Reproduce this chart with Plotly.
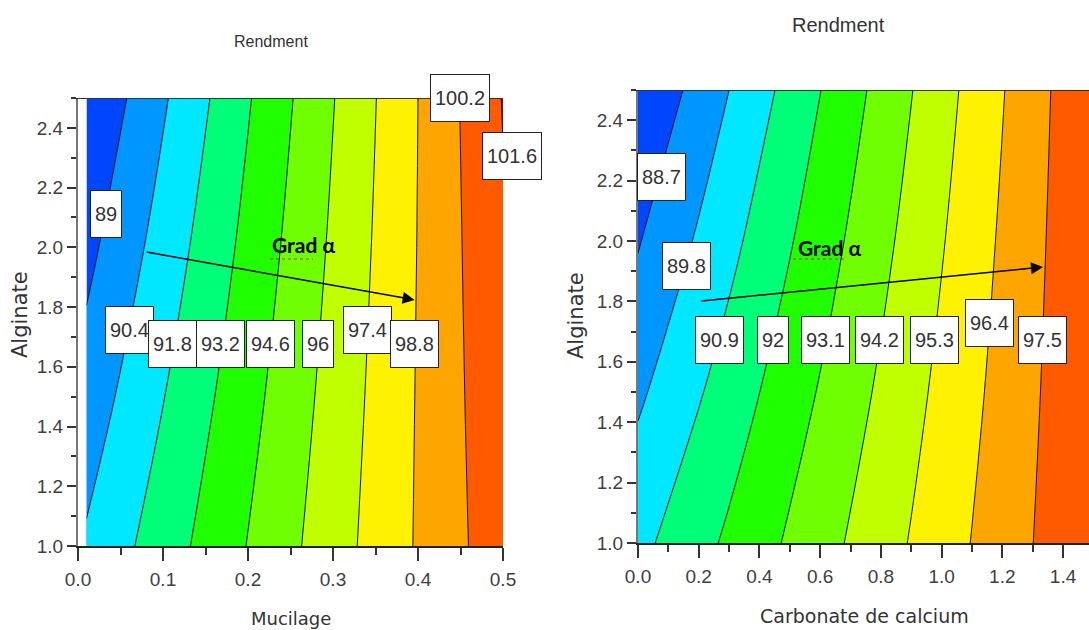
import plotly.graph_objects as go

# ---------------- data ----------------
# Left panel: Rendment vs Mucilage (x) and Alginate (y)
mucilage = [0.01, 0.1, 0.2, 0.3, 0.4, 0.5]
alginate = [1.0, 1.5, 2.0, 2.5]
rend_left = [
    [90.58, 92.51, 94.65, 96.79, 98.93, 101.07],
    [89.60, 91.75, 94.13, 96.51, 98.89, 101.27],
    [88.62, 90.98, 93.60, 96.22, 98.84, 101.46],
    [87.64, 90.22, 93.08, 95.94, 98.80, 101.66],
]
levels_left = [89, 90.4, 91.8, 93.2, 94.6, 96, 97.4, 98.8, 100.2, 101.6]
label_left_x = [0.033, 0.060, 0.111, 0.168, 0.227, 0.282, 0.341, 0.396, 0.449, 0.511]
label_left_y = [2.112, 1.723, 1.676, 1.676, 1.676, 1.676, 1.723, 1.676, 2.500, 2.306]

# Right panel: Rendment vs Carbonate de calcium (x) and Alginate (y)
carbonate = [0.0, 0.3, 0.6, 0.9, 1.2, 1.5]
alginate_r = [1.0, 1.5, 2.0, 2.5]
rend_right = [
    [90.60, 92.19, 93.78, 95.37, 96.96, 98.55],
    [89.61, 91.40, 93.18, 94.97, 96.75, 98.54],
    [88.62, 90.60, 92.58, 94.56, 96.55, 98.53],
    [87.63, 89.80, 91.98, 94.16, 96.34, 98.52],
]
levels_right = [88.7, 89.8, 90.9, 92, 93.1, 94.2, 95.3, 96.4, 97.5]
label_right_x = [0.076, 0.161, 0.268, 0.444, 0.616, 0.794, 0.975, 1.159, 1.331]
label_right_y = [2.212, 1.917, 1.672, 1.672, 1.672, 1.672, 1.672, 1.728, 1.672]

# Gradient arrows (start -> end)
grad_left = dict(x0=0.079, y0=1.985, x1=0.396, y1=1.824, tx=0.265, ty=2.008)
grad_right = dict(x0=0.204, y0=1.801, x1=1.334, y1=1.914, tx=0.632, ty=1.980)

band_colors = ["#0046ff", "#0096ff", "#00e8ff", "#00ff78", "#20ff00",
               "#70ff00", "#c0ff00", "#fff200", "#ffa500", "#ff5a00", "#c00000"]

W, H = 1089, 630
XL_DOM = [78 / W, 503 / W]
XL_RNG = [0, 0.5]
YL_DOM = [(H - 546) / H, (H - 98) / H]
XR_DOM = [638 / W, 1.0]
XR_RNG = [0, (W - 638) / 303.6]
YR_DOM = [(H - 543) / H, (H - 90) / H]
Y_RNG = [1.0, 2.5]

NARROW = "Liberation Sans Narrow, Arial Narrow, Liberation Sans, sans-serif"
WIDE = "DejaVu Sans, Verdana, sans-serif"


def fmt(v):
    s = ("%.1f" % v)
    return s[:-2] if s.endswith(".0") else s


def colorscale(n_levels):
    return [[j / n_levels, band_colors[j]] for j in range(n_levels + 1)]


def to_paper(v, dom, rng):
    return dom[0] + (v - rng[0]) / (rng[1] - rng[0]) * (dom[1] - dom[0])


fig = go.Figure()

step_l = round(levels_left[1] - levels_left[0], 6)
fig.add_trace(go.Contour(
    x=mucilage, y=alginate, z=rend_left, xaxis="x", yaxis="y",
    contours=dict(start=levels_left[0], end=levels_left[-1], size=step_l,
                  coloring="fill", showlines=True),
    colorscale=colorscale(len(levels_left)),
    line=dict(color="#111111", width=1), showscale=False, hoverinfo="skip"))

step_r = round(levels_right[1] - levels_right[0], 6)
fig.add_trace(go.Contour(
    x=carbonate, y=alginate_r, z=rend_right, xaxis="x2", yaxis="y2",
    contours=dict(start=levels_right[0], end=levels_right[-1], size=step_r,
                  coloring="fill", showlines=True),
    colorscale=colorscale(len(levels_right)),
    line=dict(color="#111111", width=1), showscale=False, hoverinfo="skip"))

tickfont = dict(family="Liberation Sans", size=19, color="#404040")
label_font = dict(family="Liberation Sans", size=20, color="#333333")
box = dict(showarrow=False, font=label_font, bgcolor="white", bordercolor="#222222",
           borderwidth=1, borderpad=4, height=38, xanchor="center", yanchor="middle")

annotations = []
for v, lx, ly in zip(levels_left, label_left_x, label_left_y):
    px = to_paper(lx, XL_DOM, XL_RNG)
    py = to_paper(ly, YL_DOM, Y_RNG)
    annotations.append(dict(x=px, y=py, xref="paper", yref="paper", text=fmt(v), **box))
for v, lx, ly in zip(levels_right, label_right_x, label_right_y):
    annotations.append(dict(x=lx, y=ly, xref="x2", yref="y2", text=fmt(v), **box))

for g, xr, yr in ((grad_left, "x", "y"), (grad_right, "x2", "y2")):
    annotations.append(dict(x=g["x1"], y=g["y1"], ax=g["x0"], ay=g["y0"],
                            xref=xr, yref=yr, axref=xr, ayref=yr, text="",
                            showarrow=True, arrowhead=2, arrowsize=1.6,
                            arrowwidth=1.5, arrowcolor="black"))
    annotations.append(dict(x=g["tx"], y=g["ty"], xref=xr, yref=yr,
                            text="<b>Grad α</b>", showarrow=False,
                            xanchor="center", yanchor="middle",
                            font=dict(family="Lato", size=21, color="black")))

txt = dict(showarrow=False, xref="paper", yref="paper", xanchor="center", yanchor="middle")
annotations += [
    dict(x=271 / W, y=1 - 42 / H, text="Rendment",
         font=dict(family=NARROW, size=16, color="#333333"), **txt),
    dict(x=838 / W, y=1 - 25 / H, text="Rendment",
         font=dict(family=NARROW, size=20, color="#333333"), **txt),
    dict(x=20 / W, y=1 - 315 / H, text="Alginate", textangle=-90,
         font=dict(family=WIDE, size=21, color="#333333"), **txt),
    dict(x=576 / W, y=1 - 316 / H, text="Alginate", textangle=-90,
         font=dict(family=WIDE, size=21, color="#333333"), **txt),
    dict(x=291 / W, y=1 - 618 / H, text="Mucilage",
         font=dict(family=WIDE, size=18, color="#333333"), **txt),
    dict(x=864 / W, y=1 - 616 / H, text="Carbonate de calcium",
         font=dict(family=WIDE, size=19, color="#333333"), **txt),
]

shapes = [
    dict(type="line", xref="paper", yref="y", x0=72 / W, x1=503 / W,
         y0=2.5, y1=2.5, line=dict(color="#333333", width=2)),
    dict(type="line", xref="paper", yref="y2", x0=633 / W, x1=1.0,
         y0=2.5, y1=2.5, line=dict(color="#333333", width=2)),
    dict(type="line", xref="paper", yref="paper", x0=270 / W, x1=313 / W,
         y0=1 - 259 / H, y1=1 - 259 / H, line=dict(color="#e02020", width=1.2, dash="dot")),
    dict(type="line", xref="paper", yref="paper", x0=793 / W, x1=846 / W,
         y0=1 - 259 / H, y1=1 - 259 / H, line=dict(color="#e02020", width=1.2, dash="dot")),
]

xcommon = dict(showgrid=False, zeroline=False, showline=True, linecolor="#222222",
               linewidth=2, ticks="outside", ticklen=13, tickwidth=1.5,
               tickcolor="#333333", tickfont=tickfont, tickformat=".1f",
               automargin=False, ticklabelstandoff=2)
ycommon = dict(showgrid=False, zeroline=False, showline=True, linecolor="#777777",
               linewidth=2, ticks="outside", ticklen=9, tickwidth=1.5,
               tickcolor="#333333", tickfont=tickfont, tickformat=".1f",
               tick0=1.0, dtick=0.2, automargin=False, range=Y_RNG,
               minor=dict(dtick=0.1, ticks="outside", ticklen=5, tickcolor="#333333"))

fig.update_layout(
    width=W, height=H, margin=dict(l=0, r=0, t=0, b=0),
    paper_bgcolor="white", plot_bgcolor="white", showlegend=False,
    xaxis=dict(domain=XL_DOM, range=XL_RNG, tick0=0, dtick=0.1,
               minor=dict(dtick=0.05, ticks="outside", ticklen=7, tickcolor="#333333"),
               anchor="y", **xcommon),
    yaxis=dict(domain=YL_DOM, anchor="x", **ycommon),
    xaxis2=dict(domain=XR_DOM, range=XR_RNG, tick0=0, dtick=0.2,
                minor=dict(dtick=0.1, ticks="outside", ticklen=7, tickcolor="#333333"),
                anchor="y2", **xcommon),
    yaxis2=dict(domain=YR_DOM, anchor="x2", **ycommon),
    annotations=annotations, shapes=shapes,
)

fig.write_html("out.html")
